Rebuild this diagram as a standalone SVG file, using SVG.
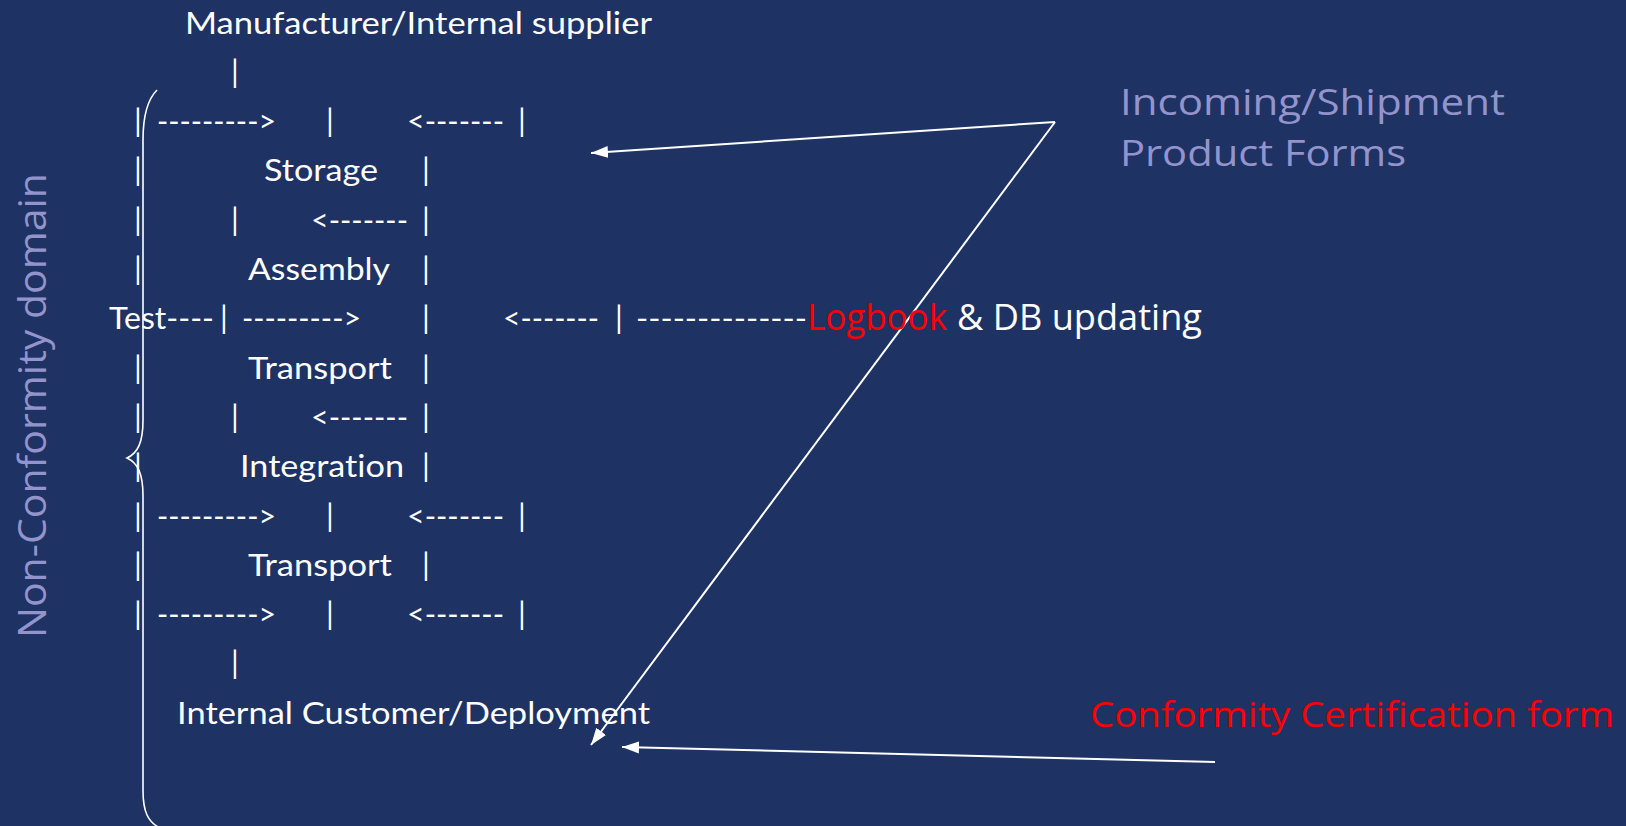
<svg xmlns="http://www.w3.org/2000/svg" width="1626" height="826" viewBox="0 0 1626 826">
<defs>
<style>
text{font-variant-ligatures:none}
.c{font-family:Lato,"Open Sans","Liberation Sans",sans-serif;font-size:31px;fill:#ffffff}
.b{font-family:Lato,"Open Sans","Liberation Sans",sans-serif;font-size:31px;fill:#ffffff;text-anchor:middle}
.k{font-family:"Open Sans","DejaVu Sans",sans-serif}
.lav{fill:#9494CC}
.red{fill:#FF0000}
.wht{fill:#ffffff}
.ln{stroke:#ffffff;stroke-width:2;fill:none}
.brace{stroke:#ffffff;stroke-width:1.6;fill:none}
</style>
<marker id="ah" markerUnits="userSpaceOnUse" markerWidth="18" markerHeight="14" refX="17" refY="7" orient="auto">
<path d="M0,1 L17,7 L0,13 z" fill="#ffffff"/>
</marker>
</defs>
<rect x="0" y="0" width="1626" height="826" fill="#1E3264"/>

<g id="flow-lines">
<text class="b" x="235" y="82.8">|</text>
<text class="b" x="138" y="132">|</text>
<text class="c" x="157" y="132" textLength="119" lengthAdjust="spacingAndGlyphs">---------&gt;</text>
<text class="b" x="330" y="132">|</text>
<text class="c" x="407" y="132" textLength="97" lengthAdjust="spacingAndGlyphs">&lt;-------</text>
<text class="b" x="522" y="132">|</text>
<text class="b" x="138" y="181.4">|</text>
<text class="b" x="426" y="181.4">|</text>
<text class="b" x="138" y="230.7">|</text>
<text class="b" x="235" y="230.7">|</text>
<text class="c" x="311" y="230.7" textLength="97" lengthAdjust="spacingAndGlyphs">&lt;-------</text>
<text class="b" x="426" y="230.7">|</text>
<text class="b" x="138" y="280">|</text>
<text class="b" x="426" y="280">|</text>
<text class="b" x="224" y="329.3">|</text>
<text class="c" x="242" y="329.3" textLength="119" lengthAdjust="spacingAndGlyphs">---------&gt;</text>
<text class="b" x="426" y="329.3">|</text>
<text class="c" x="503" y="329.3" textLength="96" lengthAdjust="spacingAndGlyphs">&lt;-------</text>
<text class="b" x="619" y="329.3">|</text>
<text class="c" x="636" y="329.3" textLength="171" lengthAdjust="spacingAndGlyphs">--------------</text>
<text class="b" x="138" y="378.6">|</text>
<text class="b" x="426" y="378.6">|</text>
<text class="b" x="138" y="427.9">|</text>
<text class="b" x="235" y="427.9">|</text>
<text class="c" x="311" y="427.9" textLength="97" lengthAdjust="spacingAndGlyphs">&lt;-------</text>
<text class="b" x="426" y="427.9">|</text>
<text class="b" x="138" y="477.2">|</text>
<text class="b" x="426" y="477.2">|</text>
<text class="b" x="138" y="526.5">|</text>
<text class="c" x="157" y="526.5" textLength="119" lengthAdjust="spacingAndGlyphs">---------&gt;</text>
<text class="b" x="330" y="526.5">|</text>
<text class="c" x="407" y="526.5" textLength="97" lengthAdjust="spacingAndGlyphs">&lt;-------</text>
<text class="b" x="522" y="526.5">|</text>
<text class="b" x="138" y="575.8">|</text>
<text class="b" x="426" y="575.8">|</text>
<text class="b" x="138" y="625.1">|</text>
<text class="c" x="157" y="625.1" textLength="119" lengthAdjust="spacingAndGlyphs">---------&gt;</text>
<text class="b" x="330" y="625.1">|</text>
<text class="c" x="407" y="625.1" textLength="97" lengthAdjust="spacingAndGlyphs">&lt;-------</text>
<text class="b" x="522" y="625.1">|</text>
<text class="b" x="235" y="674.4">|</text>
</g>

<g id="connectors">
<path id="brace" class="brace" d="M157,90 C147,100 143,116 143,140 L143,420 C143,442 138,453 127,458 C138,463 143,474 143,496 L143,790 C143,812 148,822 160,828"/>
<line class="ln" x1="1055" y1="122" x2="591" y2="153" marker-end="url(#ah)"/>
<line class="ln" x1="1055" y1="122" x2="591" y2="745" marker-end="url(#ah)"/>
<line class="ln" x1="1215" y1="762" x2="622" y2="747" marker-end="url(#ah)"/>
</g>

<g id="manufacturer"><text class="c" x="185" y="33.5" textLength="467" lengthAdjust="spacingAndGlyphs">Manufacturer/Internal supplier</text></g>
<g id="storage"><text class="c" x="264" y="181.4" textLength="114" lengthAdjust="spacingAndGlyphs">Storage</text></g>
<g id="assembly"><text class="c" x="248" y="280" textLength="142" lengthAdjust="spacingAndGlyphs">Assembly</text></g>
<g id="test"><text class="c" x="109" y="329.3" textLength="105" lengthAdjust="spacingAndGlyphs">Test----</text></g>
<g id="transport-1"><text class="c" x="248" y="378.6" textLength="144" lengthAdjust="spacingAndGlyphs">Transport</text></g>
<g id="integration"><text class="c" x="240" y="477.2" textLength="164" lengthAdjust="spacingAndGlyphs">Integration</text></g>
<g id="transport-2"><text class="c" x="248" y="575.8" textLength="144" lengthAdjust="spacingAndGlyphs">Transport</text></g>
<g id="internal-customer"><text class="c" x="177" y="723.7" textLength="473" lengthAdjust="spacingAndGlyphs">Internal Customer/Deployment</text></g>

<g id="logbook">
<text class="k red" x="807" y="330" font-size="37" textLength="140" lengthAdjust="spacingAndGlyphs">Logbook</text>
<text class="k wht" x="957" y="330" font-size="37" textLength="245" lengthAdjust="spacingAndGlyphs">&amp; DB updating</text>
</g>

<g id="incoming-forms">
<text class="k lav" x="1120" y="115" font-size="37" textLength="385" lengthAdjust="spacingAndGlyphs">Incoming/Shipment</text>
<text class="k lav" x="1120" y="166" font-size="37" textLength="286" lengthAdjust="spacingAndGlyphs">Product Forms</text>
</g>

<g id="conformity-form">
<text class="k red" x="1090" y="727" font-size="35" textLength="524" lengthAdjust="spacingAndGlyphs">Conformity Certification form</text>
</g>

<g id="non-conformity-domain">
<text class="k lav" transform="translate(46,638) rotate(-90)" x="0" y="0" font-size="38" textLength="465" lengthAdjust="spacingAndGlyphs">Non-Conformity domain</text>
</g>
</svg>
